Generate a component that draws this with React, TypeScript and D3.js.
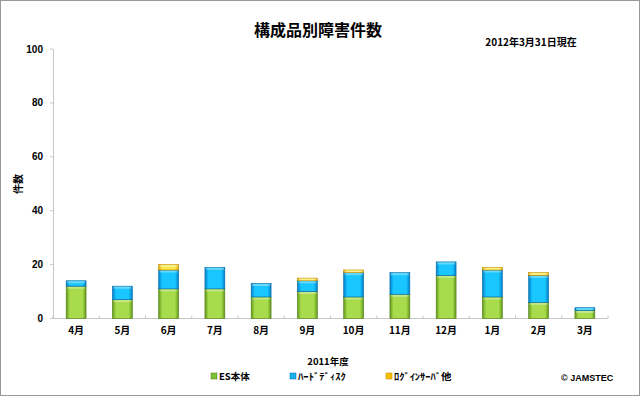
import * as d3 from "d3";

const months = ["4月", "5月", "6月", "7月", "8月", "9月", "10月", "11月", "12月", "1月", "2月", "3月"];
const esMain = [12, 7, 11, 11, 8, 10, 8, 9, 16, 8, 6, 3];
const hardDisk = [2, 5, 7, 8, 5, 4, 9, 8, 5, 10, 10, 1];
const loginEtc = [0, 0, 2, 0, 0, 1, 1, 0, 0, 1, 1, 0];
const seriesNames = ["ES本体", "ﾊｰﾄﾞﾃﾞｨｽｸ", "ﾛｸﾞｲﾝｻｰﾊﾞ他"];
const yTicks = [0, 20, 40, 60, 80, 100];

const W = 640;
const H = 396;
const M = { left: 53, right: 608, top: 49, bottom: 318.5 };

// edge / center / stroke
const COLORS = [
  { edge: "#62981a", mid: "#a8dc4c", stroke: "#4f7d14", key: "#7cc234" },
  { edge: "#0080c8", mid: "#19c6ff", stroke: "#0068a8", key: "#18b0ec" },
  { edge: "#e0a800", mid: "#ffe84a", stroke: "#c08a00", key: "#f2c200" },
];

const NUM_FONT = "'Liberation Sans', Arial, sans-serif";
const JP_FONT = "'Noto Sans CJK JP', sans-serif";

type Row = { month: string; es: number; hd: number; lg: number };
const rows: Row[] = months.map((m, i) => ({ month: m, es: esMain[i], hd: hardDisk[i], lg: loginEtc[i] }));

export default function App() {
  const x = d3.scaleBand<string>().domain(months).range([M.left, M.right]).paddingInner(0.57).paddingOuter(0.285);
  const y = d3.scaleLinear().domain([0, 100]).range([M.bottom, M.top]);
  const stack = d3.stack<Row>().keys(["es", "hd", "lg"]);
  const layers = stack(rows);
  const step = x.step();

  const legend = [
    { x: 211, label: seriesNames[0], sx: 1 },
    { x: 290, label: seriesNames[1], sx: 1.12 },
    { x: 386, label: seriesNames[2], sx: 1.1 },
  ];

  return (
    <svg width={W} height={H} style={{ position: "fixed", left: 0, top: 0, background: "#fff" }}>
      <defs>
        {COLORS.map((c, i) => (
          <linearGradient key={i} id={`g${i}`} x1="0" x2="1" y1="0" y2="0">
            <stop offset="0" stopColor={c.edge} />
            <stop offset="0.18" stopColor={c.mid} />
            <stop offset="0.82" stopColor={c.mid} />
            <stop offset="1" stopColor={c.edge} />
          </linearGradient>
        ))}
      </defs>
      <rect x={0.5} y={0.5} width={W - 1} height={H - 1} fill="#fff" stroke="#999" />

      <text x={318} y={36} textAnchor="middle" fontFamily={JP_FONT} fontWeight="bold" fontSize={16}>構成品別障害件数</text>
      <text x={531} y={46} textAnchor="middle" fontFamily={JP_FONT} fontWeight="bold" fontSize={10}>2012年3月31日現在</text>

      {/* axes */}
      <line x1={M.left + 0.5} x2={M.left + 0.5} y1={M.top} y2={M.bottom} stroke="#c8c8c8" />
      <line x1={M.left} x2={M.right} y1={M.bottom} y2={M.bottom} stroke="#c8c8c8" />
      {yTicks.map((t) => (
        <g key={t}>
          <line x1={M.left - 3} x2={M.left} y1={y(t)} y2={y(t)} stroke="#c8c8c8" />
          <text x={43} y={y(t) + 3.5} textAnchor="end" fontFamily={NUM_FONT} fontWeight="bold" fontSize={10}>{t}</text>
        </g>
      ))}
      {d3.range(months.length + 1).map((i) => (
        <line key={i} x1={M.left + i * step} x2={M.left + i * step} y1={M.bottom} y2={M.bottom - 3} stroke="#c8c8c8" />
      ))}
      {months.map((m) => (
        <text key={m} x={(x(m) ?? 0) + x.bandwidth() / 2} y={334} textAnchor="middle" fontFamily={JP_FONT} fontWeight="bold" fontSize={10}>{m}</text>
      ))}

      <text transform="translate(22,184) rotate(-90)" textAnchor="middle" fontFamily={JP_FONT} fontWeight="bold" fontSize={10}>件数</text>
      <text x={328} y={365} textAnchor="middle" fontFamily={JP_FONT} fontWeight="bold" fontSize={9.5}>2011年度</text>

      {/* bars */}
      {layers.map((layer, li) => (
        <g key={layer.key}>
          {layer.map((d, i) => {
            if (d[1] - d[0] <= 0) return null;
            const bx = x(months[i]) ?? 0;
            const y0 = y(d[0]);
            const y1 = y(d[1]);
            return (
              <g key={i}>
                <rect x={bx} y={y1} width={x.bandwidth()} height={y0 - y1} fill={`url(#g${li})`} stroke={COLORS[li].stroke} strokeWidth={0.6} />
                <rect x={bx + 1} y={y1 + 0.5} width={x.bandwidth() - 2} height={Math.min(2, y0 - y1 - 1)} fill="#fff" opacity={0.35} />
              </g>
            );
          })}
        </g>
      ))}

      {/* legend */}
      {legend.map((l, i) => (
        <g key={l.label}>
          <rect x={l.x} y={373} width={6} height={6} fill={COLORS[i].key} stroke={COLORS[i].stroke} strokeWidth={0.5} />
          <text transform={`translate(${l.x + 8},380) scale(${l.sx},1)`} fontFamily={JP_FONT} fontWeight="bold" fontSize={9.5}>{l.label}</text>
        </g>
      ))}
      <text x={561} y={381} fontFamily={NUM_FONT} fontWeight="bold" fontSize={9}>© JAMSTEC</text>
    </svg>
  );
}
